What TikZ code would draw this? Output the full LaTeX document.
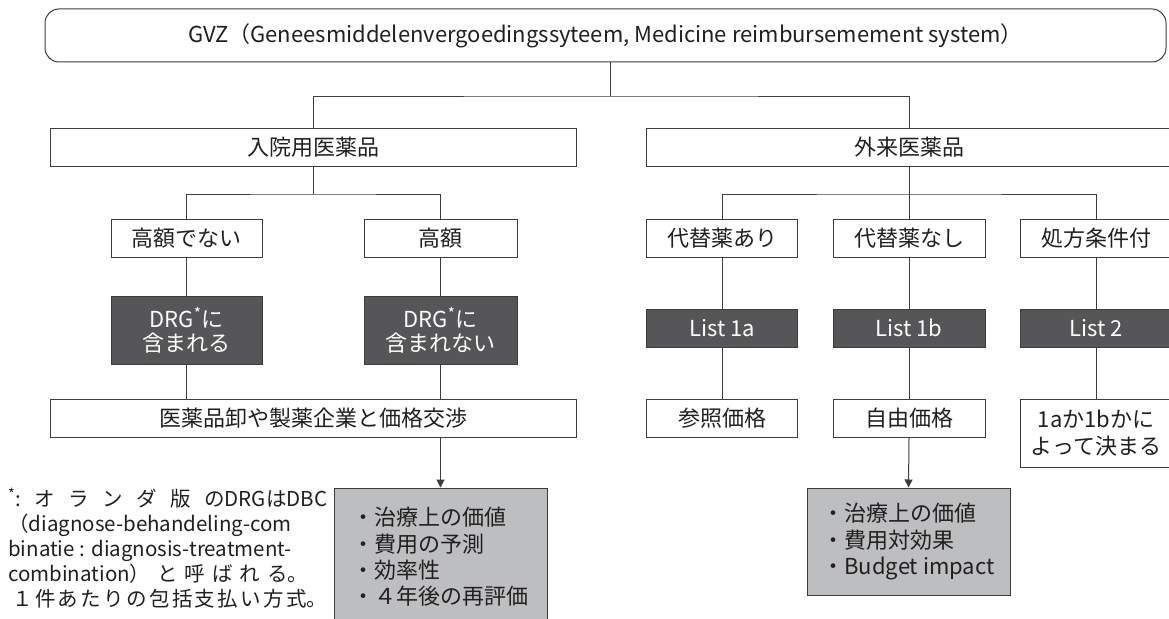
\documentclass[tikz,border=0pt]{standalone}
\usepackage{fontspec}
\setmainfont{Noto Sans CJK JP}
\usetikzlibrary{arrows.meta}
\definecolor{linec}{HTML}{3C3C3C}
\definecolor{darkc}{HTML}{565658}
\definecolor{grayc}{HTML}{BDBEC0}
\definecolor{textc}{HTML}{231F20}
\tikzset{
  base/.style={draw=linec, line width=1pt, inner sep=0pt, align=center, text=textc,
    font=\fontsize{22pt}{26pt}\selectfont},
  wbox/.style={base, fill=white},
  dbox/.style={base, fill=darkc, draw=linec, text=white, font=\fontsize{22pt}{24pt}\selectfont},
  gbox/.style={base, fill=grayc, align=left, font=\fontsize{22pt}{26.3pt}\selectfont},
  conn/.style={draw=linec, line width=1pt},
  arr/.style={conn, -{Triangle[width=8pt,length=8pt]}},
  notestyle/.style={anchor=west, align=left, inner sep=0pt, text=textc,
    font=\fontsize{20.5pt}{25pt}\selectfont},
}
\begin{document}
\begin{tikzpicture}[x=1pt, y=-1pt]
\useasboundingbox (0,0) rectangle (1169,618);
\clip (0,0) rectangle (1169,618);
\fill[white] (0,0) rectangle (1169,618);

% top
\node[wbox, rounded corners=14pt, minimum width=1121pt, minimum height=53pt] (top) at (605.5,35.5)
  {GVZ（Geneesmiddelenvergoedingssyteem, Medicine reimbursemement system）};

% level 1
\node[wbox, minimum width=526pt, minimum height=38pt] (inp) at (313,147) {入院用医薬品};
\node[wbox, minimum width=526pt, minimum height=38pt] (out) at (909,147) {外来医薬品};

% level 2
\node[wbox, minimum width=151pt, minimum height=38pt] (h1) at (186.5,238) {高額でない};
\node[wbox, minimum width=153pt, minimum height=38pt] (h2) at (440.5,238) {高額};
\node[wbox, minimum width=151pt, minimum height=38pt] (s1) at (722,238) {代替薬あり};
\node[wbox, minimum width=152pt, minimum height=38pt] (s2) at (909,238) {代替薬なし};
\node[wbox, minimum width=152pt, minimum height=38pt] (s3) at (1096,238) {処方条件付};

% level 3 (dark)
\node[dbox, minimum width=151pt, minimum height=68pt] (d1) at (186.5,330) {DRG\textsuperscript{*}に\\含まれる};
\node[dbox, minimum width=153pt, minimum height=68pt] (d2) at (440.5,330) {DRG\textsuperscript{*}に\\含まれない};
\node[dbox, minimum width=151pt, minimum height=38pt] (l1) at (722,328) {List 1a};
\node[dbox, minimum width=152pt, minimum height=38pt] (l2) at (909,328) {List 1b};
\node[dbox, minimum width=152pt, minimum height=38pt] (l3) at (1096,328) {List 2};

% level 4
\node[wbox, minimum width=526pt, minimum height=38pt] (nego) at (313,418) {医薬品卸や製薬企業と価格交渉};
\node[wbox, minimum width=151pt, minimum height=38pt] (r1) at (722,418) {参照価格};
\node[wbox, minimum width=152pt, minimum height=38pt] (r2) at (909,418) {自由価格};
\node[wbox, minimum width=152pt, minimum height=68pt, font=\fontsize{22pt}{27pt}\selectfont] (r3) at (1096,433) {1aか1bかに\\よって決まる};

% gray boxes
\node[gbox, minimum width=213pt, minimum height=138pt] (g1) at (440.5,557)
  {・治療上の価値\\・費用の予測\\・効率性\\・４年後の再評価};
\node[gbox, minimum width=203pt, minimum height=107pt] (g2) at (908.5,541.5)
  {・治療上の価値\\・費用対効果\\・Budget impact};

% footnote
\node[notestyle] (note) at (8,548) {%
\makebox[319pt][s]{\textsuperscript{*}:\hfil オ\hfil ラ\hfil ン\hfil ダ\hfil 版\hfil のDRGはDBC}\\
（diagnose-behandeling-com\\
binatie : diagnosis-treatment-\\
\makebox[300pt][s]{combination）\hfil と\hfil 呼\hfil ば\hfil れ\hfil る。}\\
\makebox[319pt][s]{\hspace{4pt}１\hfil 件\hfil あ\hfil た\hfil り\hfil の\hfil 包\hfil 括\hfil 支\hfil 払\hfil い\hfil 方\hfil 式。}};

% connectors
\coordinate (j0) at (610.5,96);
\coordinate (j1) at (313,194);
\coordinate (j2) at (909,194);
\draw[conn] (top.south -| j0) -- (j0);
\draw[conn] (inp.north) |- (j0) -| (out.north);
\draw[conn] (inp.south) -- (j1);
\draw[conn] (h1.north) |- (j1) -| (h2.north);
\draw[conn] (out.south) -- (s2.north);
\draw[conn] (s1.north) |- (j2) -| (s3.north);
\draw[conn] (h1.south) -- (d1.north);
\draw[conn] (h2.south) -- (d2.north);
\draw[conn] (d1.south) -- (d1.south |- nego.north);
\draw[conn] (d2.south) -- (d2.south |- nego.north);
\draw[conn] (s1.south) -- (l1.north);
\draw[conn] (s2.south) -- (l2.north);
\draw[conn] (s3.south) -- (l3.north);
\draw[conn] (l1.south) -- (r1.north);
\draw[conn] (l2.south) -- (r2.north);
\draw[conn] (l3.south) -- (r3.north);
\draw[arr] (g1.north |- nego.south) -- (g1.north);
\draw[arr] (r2.south) -- (g2.north);
\end{tikzpicture}
\end{document}
